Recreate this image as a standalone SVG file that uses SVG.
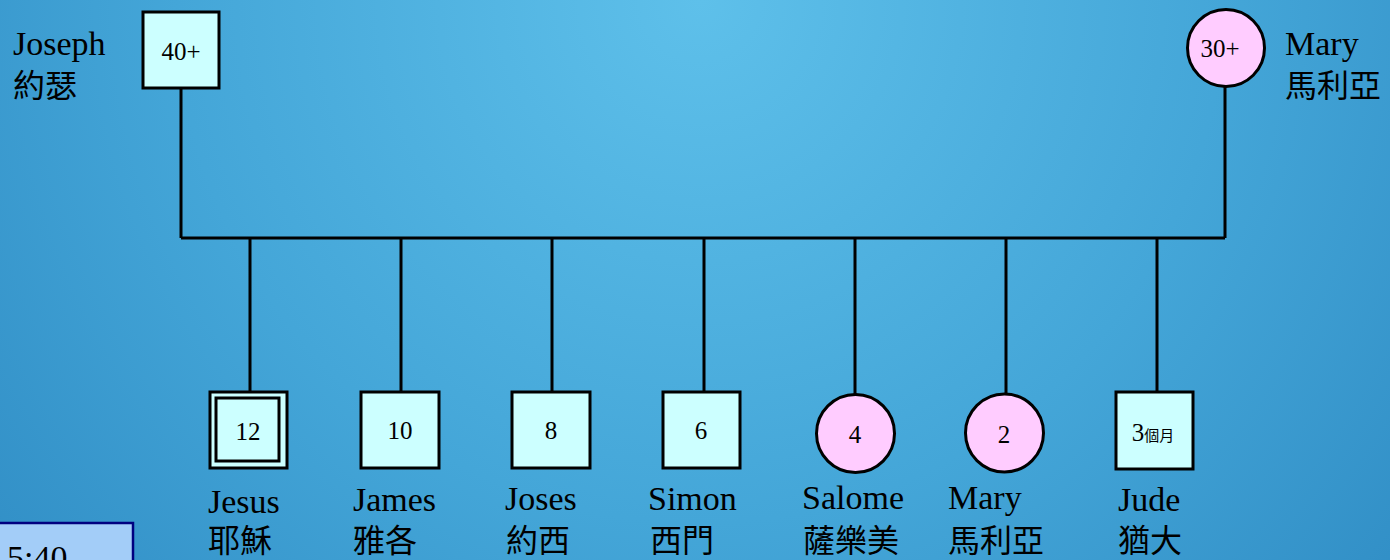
<svg xmlns="http://www.w3.org/2000/svg" width="1390" height="560" viewBox="0 0 1390 560">
<defs>
<radialGradient id="bg" cx="700" cy="0" r="950" gradientUnits="userSpaceOnUse">
<stop offset="0" stop-color="#5ec0ea"/>
<stop offset="0.55" stop-color="#44a6d8"/>
<stop offset="1" stop-color="#2f8cc4"/>
</radialGradient>
<style>
.m{fill:#ccffff;stroke:#000;stroke-width:3}
.f{fill:#ffccff;stroke:#000;stroke-width:3}
.c{stroke:#000;stroke-width:3;fill:none}
.n{font-family:"Liberation Serif","Times New Roman",serif;font-size:25px;fill:#000;text-anchor:middle}
.l{font-family:"Liberation Serif","Times New Roman",serif;font-size:34px;fill:#000}
.z{font-family:"Noto Sans CJK TC","Noto Sans CJK SC",sans-serif;font-size:32px;fill:#000}
</style>
</defs>
<rect width="1390" height="560" fill="url(#bg)"/>
<g id="connectors">
<path class="c" d="M181 88V238M1225 86V238M181 238H1225"/>
<path class="c" d="M250 238V392M401 238V392M552 238V392M704 238V392M855 238V395M1006 238V395M1157 238V392"/>
</g>
<g id="joseph">
<rect class="m" x="143" y="12" width="76" height="76"/>
<text class="n" x="181" y="60">40+</text>
<text class="l" x="13" y="55">Joseph</text>
<text class="z" x="13" y="97">約瑟</text>
</g>
<g id="mary-mother">
<circle class="f" cx="1226" cy="48" r="38.5"/>
<text class="n" x="1220" y="57">30+</text>
<text class="l" x="1285" y="55">Mary</text>
<text class="z" x="1285" y="97">馬利亞</text>
</g>
<g id="jesus">
<rect class="m" x="210" y="392" width="77" height="76"/>
<rect class="c" x="216" y="398" width="63" height="63"/>
<text class="n" x="248" y="440">12</text>
<text class="l" x="208" y="513">Jesus</text>
<text class="z" x="208" y="552">耶穌</text>
</g>
<g id="james">
<rect class="m" x="361" y="392" width="78" height="76"/>
<text class="n" x="400" y="439">10</text>
<text class="l" x="353" y="511">James</text>
<text class="z" x="353" y="552">雅各</text>
</g>
<g id="joses">
<rect class="m" x="512" y="392" width="78" height="76"/>
<text class="n" x="551" y="439">8</text>
<text class="l" x="505" y="510">Joses</text>
<text class="z" x="506" y="552">約西</text>
</g>
<g id="simon">
<rect class="m" x="663" y="392" width="77" height="76"/>
<text class="n" x="701" y="439">6</text>
<text class="l" x="648" y="510">Simon</text>
<text class="z" x="650" y="552">西門</text>
</g>
<g id="salome">
<circle class="f" cx="855.5" cy="433.5" r="39"/>
<text class="n" x="855" y="443">4</text>
<text class="l" x="802" y="509">Salome</text>
<text class="z" x="803" y="552">薩樂美</text>
</g>
<g id="mary-daughter">
<circle class="f" cx="1004.5" cy="433" r="39"/>
<text class="n" x="1004" y="443">2</text>
<text class="l" x="948" y="509">Mary</text>
<text class="z" x="948" y="552">馬利亞</text>
</g>
<g id="jude">
<rect class="m" x="1116" y="392" width="77" height="77"/>
<text class="n" x="1153" y="441">3<tspan font-family="'Noto Sans CJK TC',sans-serif" font-size="15">個月</tspan></text>
<text class="l" x="1118" y="511">Jude</text>
<text class="z" x="1118" y="552">猶大</text>
</g>
<g id="ref-box">
<rect x="-2" y="523" width="135" height="50" fill="#a3cdf8" stroke="#000080" stroke-width="2.5"/>
<text class="l" x="7" y="569">5:40</text>
</g>
</svg>
